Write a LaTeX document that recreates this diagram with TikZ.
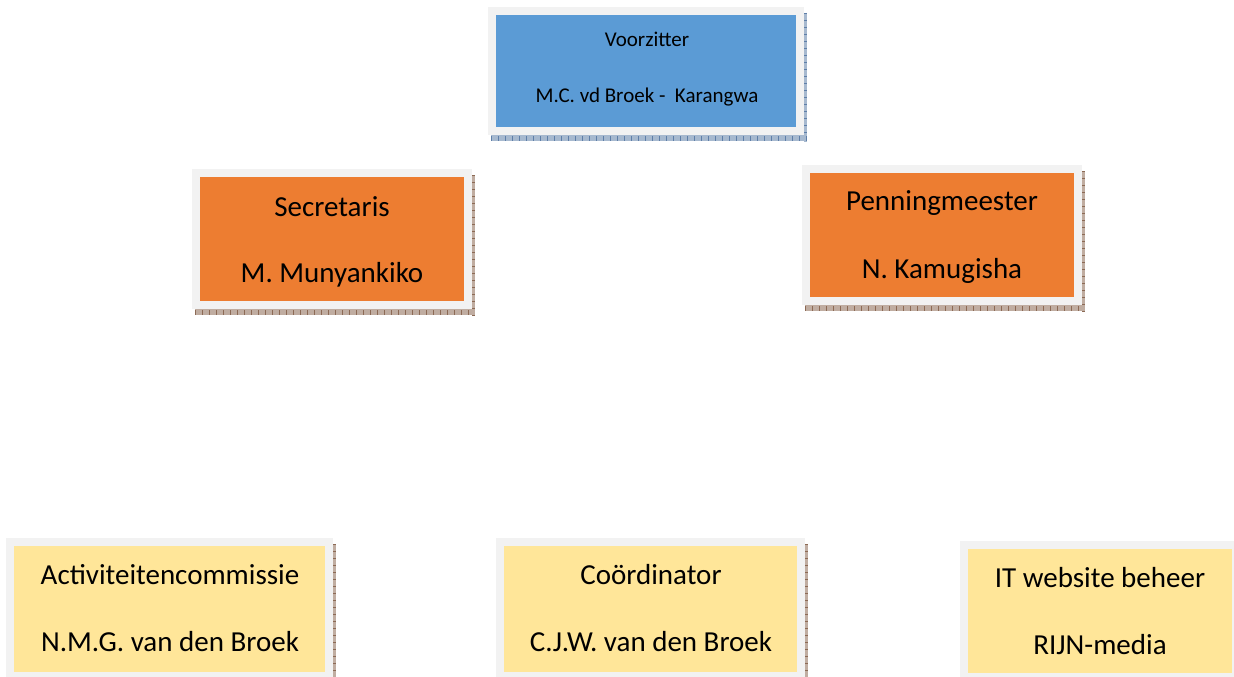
\documentclass[tikz,border=0pt]{standalone}
\usepackage{fontspec}
\setmainfont{Carlito}
\definecolor{frameg}{HTML}{F2F2F2}
\definecolor{blu}{HTML}{5B9BD5}
\definecolor{ora}{HTML}{ED7D31}
\definecolor{yel}{HTML}{FFE699}
\definecolor{shbd}{HTML}{5F7FA8}
\definecolor{shod}{HTML}{8C6A55}
\tikzset{
  big/.style={font=\fontsize{29}{34}\selectfont, text=black},
  small/.style={font=\fontsize{21}{25}\selectfont, text=black},
}
\newcommand{\orgbox}[9]{%
  % #1 name, #2 x0, #3 y0 (outer), #4 x1, #5 y1 (outer), #6 inner fill, #7 shadow col, #8 inset, #9 show bottom shadow (1/0)
  \fill[#7!55] (#4,#3+6) rectangle (#4+3,#5+7);
  \draw[#7, line width=2.5pt, dash pattern=on 1pt off 6pt] (#4+1.5,#3+6) -- (#4+1.5,#5+7);
  \ifnum#9=1
    \fill[#7!55] (#2+3,#5) rectangle (#4+3,#5+6);
    \draw[#7, line width=5pt, dash pattern=on 1pt off 6pt] (#2+3,#5+3) -- (#4+3,#5+3);
  \fi
  \fill[frameg] (#2,#3) rectangle (#4,#5);
  \node[fill=#6, inner sep=0pt, anchor=north west, minimum width={(#4-#2-2*#8)*1pt}, minimum height={(#5-#3-2*#8)*1pt}] (#1) at (#2+#8,#3+#8) {};
}
\begin{document}
\begin{tikzpicture}[x=1pt,y=-1pt]
\useasboundingbox[fill=white] (0,0) rectangle (1234,677);
% Voorzitter
\orgbox{vz}{488}{7}{804}{135}{blu}{shbd}{8}{1}
\node[small] (vzt) at (647,39) {Voorzitter};
\node[small] (vzn) at (647,97) {M.C. vd Broek -\ \ Karangwa};
% Secretaris
\orgbox{sec}{192}{169}{472}{309}{ora}{shod}{8}{1}
\node[big] (sect) at (332,207) {Secretaris};
\node[big] (secn) at (332,275) {M. Munyankiko};
% Penningmeester
\orgbox{pen}{802}{165}{1082}{305}{ora}{shod}{8}{1}
\node[big] (pent) at (942,203) {Penningmeester};
\node[big] (penn) at (942,271) {N. Kamugisha};
% Activiteitencommissie
\orgbox{act}{6}{538}{333}{680}{yel}{shod}{8}{0}
\node[big] (actt) at (170,575) {Activiteitencommissie};
\node[big] (actn) at (170,642) {N.M.G. van den Broek};
% Coordinator
\orgbox{coo}{496}{538}{805}{680}{yel}{shod}{8}{0}
\node[big] (coot) at (651,575) {Coördinator};
\node[big] (coon) at (651,642) {C.J.W. van den Broek};
% IT
\fill[frameg] (960,541) rectangle (1234,677);
\node[fill=yel, inner sep=0pt, anchor=north west, minimum width=264pt, minimum height=124pt] (it) at (968,549) {};
\node[big] (itt) at (1100,578) {IT website beheer};
\node[big] (itn) at (1100,645) {RIJN-media};
\end{tikzpicture}
\end{document}
